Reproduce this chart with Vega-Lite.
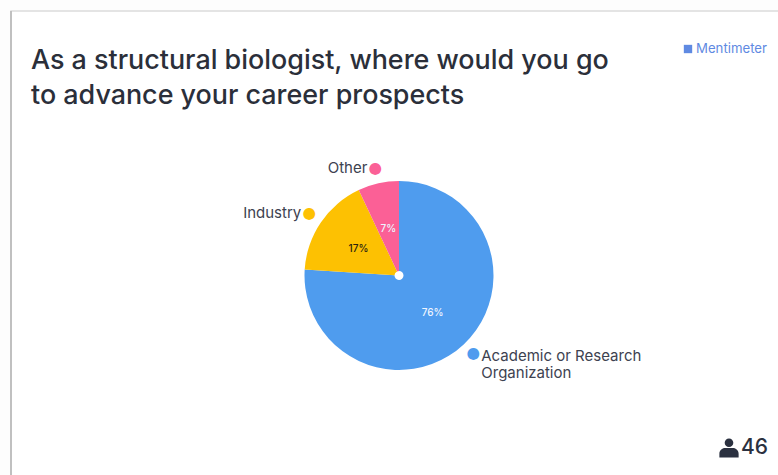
{
  "$schema": "https://vega.github.io/schema/vega-lite/v6.json",
  "width": 776,
  "height": 529,
  "autosize": "none",
  "padding": {"left": 11, "top": 11, "right": 0, "bottom": 0},
  "background": "#fdfdfd",
  "view": {"fill": "#ffffff", "stroke": "#dcdcdc", "strokeWidth": 1.5},
  "title": {
    "text": ["As a structural biologist, where would you go", "to advance your career prospects"],
    "anchor": "start",
    "frame": "group",
    "dx": 20,
    "dy": 125,
    "font": "Inter",
    "fontSize": 26.9,
    "fontWeight": 500,
    "lineHeight": 35,
    "color": "#2b2f3a",
    "baseline": "alphabetic"
  },
  "layer": [
    {
      "data": {"values": [{"edge": "card"}]},
      "mark": {"type": "rule", "stroke": "#b4b4b4", "strokeWidth": 1.5},
      "encoding": {"x": {"value": 0}, "y": {"value": 0}, "y2": {"value": 529}}
    },
    {
      "data": {
        "values": [
          {"category": "Academic or Research\nOrganization", "share": 0.76, "rank": 1},
          {"category": "Industry", "share": 0.17, "rank": 2},
          {"category": "Other", "share": 0.07, "rank": 3}
        ]
      },
      "encoding": {
        "theta": {"field": "share", "type": "quantitative", "stack": true},
        "order": {"field": "rank", "type": "ordinal"},
        "detail": {"field": "category"}
      },
      "layer": [
        {
          "mark": {"type": "arc", "outerRadius": 94.5, "innerRadius": 4.5},
          "encoding": {
            "color": {
              "field": "category",
              "type": "nominal",
              "legend": null,
              "sort": {"field": "rank"},
              "scale": {"range": ["#4f9cee", "#fdc102", "#fb6096"]}
            }
          }
        },
        {
          "mark": {"type": "text", "radius": 49, "dy": 1.5, "font": "Inter", "fontSize": 10, "fontWeight": 500},
          "encoding": {
            "text": {"field": "share", "type": "quantitative", "format": ".0%"},
            "color": {
              "condition": {"test": "datum.rank === 2", "value": "#2a2410"},
              "value": "#eef4ff"
            }
          }
        },
        {
          "mark": {"type": "text", "radius": 108.5, "text": "●", "font": "DejaVu Sans", "fontSize": 15.5, "baseline": "middle", "dy": -1.5},
          "encoding": {
            "color": {
              "field": "category",
              "type": "nominal",
              "legend": null,
              "sort": {"field": "rank"}
            }
          }
        },
        {
          "mark": {"type": "text", "radius": 108.5, "align": "right", "dx": -8, "dy": -1.5, "baseline": "middle", "font": "Inter", "fontSize": 15, "color": "#3d4250"},
          "encoding": {
            "text": {
              "condition": {"test": "datum.rank > 1", "field": "category"},
              "value": ""
            }
          }
        },
        {
          "mark": {"type": "text", "radius": 108.5, "align": "left", "dx": 8, "dy": 1.5, "baseline": "middle", "font": "Inter", "fontSize": 15, "lineHeight": 17, "lineBreak": "\n", "color": "#3d4250"},
          "encoding": {
            "text": {
              "condition": {"test": "datum.rank === 1", "field": "category"},
              "value": ""
            }
          }
        }
      ]
    },
    {
      "data": {"values": [{"brand": "Mentimeter"}]},
      "layer": [
        {
          "mark": {"type": "text", "align": "left", "baseline": "middle", "font": "Inter", "fontSize": 13.2, "color": "#5f8ae2"},
          "encoding": {
            "text": {"field": "brand"},
            "x": {"value": 685},
            "y": {"value": 38}
          }
        },
        {
          "mark": {"type": "point", "shape": "square", "filled": true, "size": 70, "color": "#5f8ae2", "opacity": 1},
          "encoding": {"x": {"value": 677}, "y": {"value": 38}}
        }
      ]
    },
    {
      "data": {"values": [{"respondents": 46}]},
      "layer": [
        {
          "mark": {"type": "text", "align": "left", "baseline": "middle", "font": "Inter", "fontSize": 21, "fontWeight": 500, "color": "#2b3140"},
          "encoding": {
            "text": {"field": "respondents", "type": "quantitative"},
            "x": {"value": 730},
            "y": {"value": 437}
          }
        },
        {
          "mark": {
            "type": "point",
            "shape": "M-0.45,-0.55a0.45,0.45 0 1,0 0.9,0a0.45,0.45 0 1,0 -0.9,0M-1,1v-0.4a0.6,0.6 0 0,1 0.6,-0.6h0.8a0.6,0.6 0 0,1 0.6,0.6v0.4z",
            "filled": true,
            "size": 370,
            "color": "#2b3140",
            "opacity": 1
          },
          "encoding": {"x": {"value": 718}, "y": {"value": 437}}
        }
      ]
    }
  ]
}
